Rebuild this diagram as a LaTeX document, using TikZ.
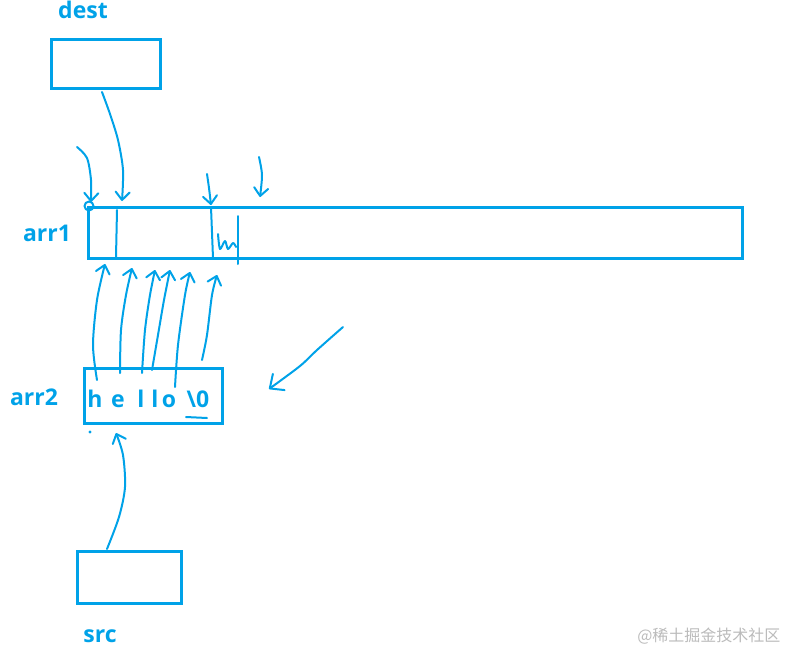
\documentclass[tikz,border=0pt]{standalone}
\usepackage{fontspec}
\setmainfont{Open Sans}
\newfontfamily\cjk{Noto Sans CJK SC}
\usepackage{tikz}
\usetikzlibrary{arrows.meta}
\definecolor{sketch-blue}{HTML}{00A2E8}
\definecolor{sketch-gray}{HTML}{BBBBBB}

\begin{document}
\begin{tikzpicture}[x=1pt, y=-1pt,
  box/.style={draw=sketch-blue, line width=3pt, inner sep=0pt},
  lbl/.style={font=\fontsize{23}{26}\selectfont\bfseries, text=sketch-blue},
  chr/.style={font=\fontsize{23}{26}\selectfont\bfseries, text=sketch-blue, inner sep=0pt, anchor=base},
  pen/.style={draw=sketch-blue, line width=2pt, line cap=round, line join=round},
  penarrow/.style={pen, -{Straight Barb[length=8pt, width=14pt, round]}}]
  \useasboundingbox (0,0) rectangle (789,651);

  % boxes and their names
  \node[box, minimum width=109pt, minimum height=49pt] (dest) at (105.5,63.5) {};
  \node[box, minimum width=654pt, minimum height=51pt] (arr1) at (415,232.5) {};
  \node[box, minimum width=138pt, minimum height=55pt] (arr2) at (153,395.5) {};
  \node[box, minimum width=104pt, minimum height=52pt] (src) at (129,577) {};

  \node[lbl] (destlbl) at (83,10) {dest};
  \node[lbl] (arr1lbl) at (47,233) {arr1};
  \node[lbl] (arr2lbl) at (34,397) {arr2};
  \node[lbl] (srclbl) at (100,636) {src};

  \foreach \c/\x [count=\i] in {h/95, e/118, l/141, l/155, o/169, {\textbackslash 0}/198} {
    \node[chr] (ch\i) at (\x,407) {\c};
  }
  \draw[pen] (186,417) -- (207,418);

  % pointers into arr1
  \coordinate (destout) at (102,92);
  \coordinate (destin) at (122,201);
  \draw[penarrow] plot[smooth] coordinates {(destout) (110,114) (118,140) (123,170) (destin)};

  \draw[penarrow] plot[smooth] coordinates {(77,147) (87,158) (91,180) (91,202)};
  \draw[pen] (89,206) circle (4.5);

  \draw[penarrow] plot[smooth] coordinates {(207,174) (209,188) (211,205)};
  \draw[pen] (211,207) -- (213,258);
  \draw[penarrow] plot[smooth] coordinates {(259,157) (262,175) (260,197)};

  \draw[pen] (117,210) -- (116,257);
  \draw[pen] (238,216) -- (238,264);
  \draw[pen] plot[smooth] coordinates {(218,234) (220,249) (225,241) (228,249) (233,243) (236,247)};

  % copy of each char up into arr1
  \foreach \xa/\ya/\xb/\yb/\xc/\yc/\xd/\yd [count=\i] in {
      97/380/93/345/97/300/105/264,
      120/373/121/330/126/295/132/268,
      142/373/145/330/150/295/155/270,
      152/370/158/335/164/300/170/270,
      175/387/178/345/185/295/190/272,
      202/360/207/335/212/295/217/275} {
    \coordinate (up\i) at (\xd,\yd);
    \draw[penarrow] plot[smooth] coordinates {(\xa,\ya) (\xb,\yb) (\xc,\yc) (up\i)};
  }

  \draw[pen, -{Straight Barb[length=11pt, width=20pt, round]}]
    plot[smooth] coordinates {(343,327) (317,350) (300,366) (269,389)};

  \coordinate (srcout) at (107,549);
  \coordinate (srcin) at (116,433);
  \draw[penarrow] plot[smooth] coordinates {(srcout) (119,517) (125,487) (123,455) (srcin)};
  \fill[sketch-blue] (90,432) circle (1.6);

  \node[font=\cjk\fontsize{16}{18}\selectfont, text=sketch-gray, anchor=east] (mark) at (784,636) {@稀土掘金技术社区};
\end{tikzpicture}
\end{document}
